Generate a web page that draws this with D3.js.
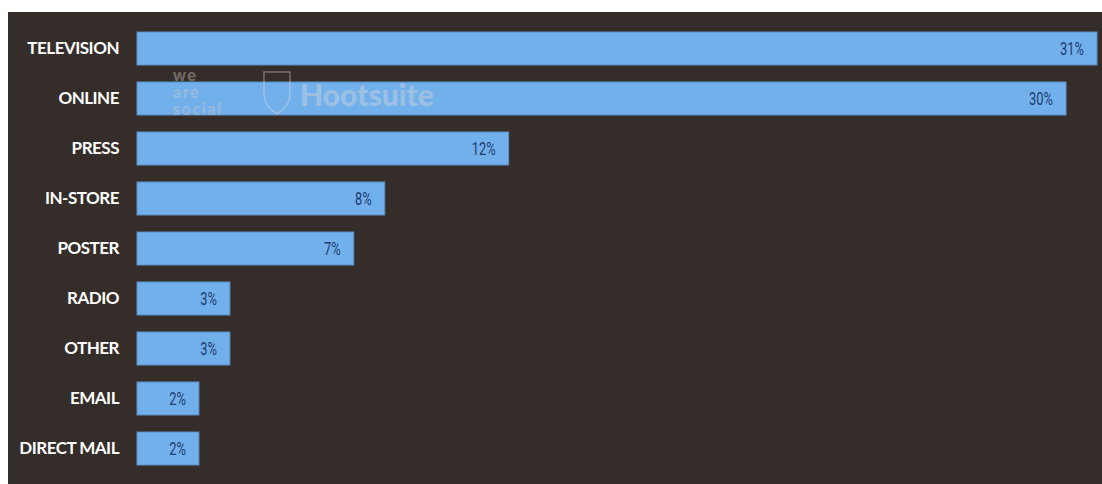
<!DOCTYPE html>
<html>
<head>
<meta charset="utf-8">
<script src="https://cdn.jsdelivr.net/npm/d3@7"></script>
<style>
  html, body { margin: 0; padding: 0; background: #ffffff; }
  svg { display: block; }
</style>
</head>
<body>
<svg id="chart" width="1102" height="484"></svg>
<script>
const categories = ["TELEVISION", "ONLINE", "PRESS", "IN-STORE", "POSTER", "RADIO", "OTHER", "EMAIL", "DIRECT MAIL"];
const shares = [31, 30, 12, 8, 7, 3, 3, 2, 2];
const valueLabels = ["31%", "30%", "12%", "8%", "7%", "3%", "3%", "2%", "2%"];

const width = 1102;
const height = 484;
const panel = { x: 8, y: 12 };
const margin = { left: 137, top: 23.5 };
const rowStep = 50;

const svg = d3.select("#chart");

svg.append("rect")
    .attr("x", panel.x)
    .attr("y", panel.y)
    .attr("width", width - panel.x)
    .attr("height", height - panel.y)
    .attr("fill", "#352d29");

const xScale = d3.scaleLinear()
    .domain([0, 31])
    .range([margin.left, 1097]);

const yScale = d3.scaleBand()
    .domain(categories)
    .range([margin.top, margin.top + rowStep * categories.length])
    .paddingInner(0.34)
    .paddingOuter(0.17);

const rows = categories.map((c, i) => ({ cat: c, v: shares[i], label: valueLabels[i] }));

// bars
svg.append("g")
    .selectAll("rect")
    .data(rows)
    .join("rect")
    .attr("x", xScale(0))
    .attr("y", (d) => yScale(d.cat))
    .attr("width", (d) => xScale(d.v) - xScale(0))
    .attr("height", yScale.bandwidth())
    .attr("fill", "#72b0ec")
    .attr("stroke", "#5a8fc4")
    .attr("stroke-width", 1);

// category labels
const yAxis = d3.axisLeft(yScale).tickSize(0).tickPadding(18);
svg.append("g")
    .attr("transform", `translate(${margin.left}, 0)`)
    .call(yAxis)
    .call((g) => g.select(".domain").remove())
    .call((g) =>
        g.selectAll("text")
            .attr("fill", "#ffffff")
            .style("font-family", "Lato, 'Noto Sans', sans-serif")
            .style("font-weight", "700")
            .style("font-size", "17px")
            .style("letter-spacing", "-0.5px")
    );

// value labels (condensed by horizontal scale)
svg.append("g")
    .selectAll("text")
    .data(rows)
    .join("text")
    .attr("transform", (d) =>
        `translate(${xScale(d.v) - 13}, ${yScale(d.cat) + yScale.bandwidth() / 2}) scale(0.68, 1)`)
    .attr("dy", "0.36em")
    .attr("text-anchor", "end")
    .attr("fill", "#1e3c6e")
    .style("font-family", "Roboto, sans-serif")
    .style("font-weight", "400")
    .style("font-size", "19px")
    .text((d) => d.label);

// watermark
const wm = svg.append("g").attr("opacity", 0.4).attr("fill", "#c8c8c8")
    .style("font-family", "Lato, sans-serif").style("font-weight", "900");
wm.append("text").attr("x", 173).attr("y", 81).style("font-size", "16px").style("letter-spacing", "1.5px").text("we");
wm.append("text").attr("x", 173).attr("y", 98).style("font-size", "16px").style("letter-spacing", "1.5px").text("are");
wm.append("text").attr("x", 173).attr("y", 115).style("font-size", "16px").style("letter-spacing", "1.5px").text("social");
wm.append("path")
    .attr("d", "M264,72 h26 v22 q0,12 -13,20 q-13,-8 -13,-20 z")
    .attr("fill", "none").attr("stroke", "#d8d8d8").attr("stroke-width", 1.5);
wm.append("text").attr("x", 300).attr("y", 106).attr("fill", "#d8d8d8").style("font-size", "30px").text("Hootsuite");
</script>
</body>
</html>
